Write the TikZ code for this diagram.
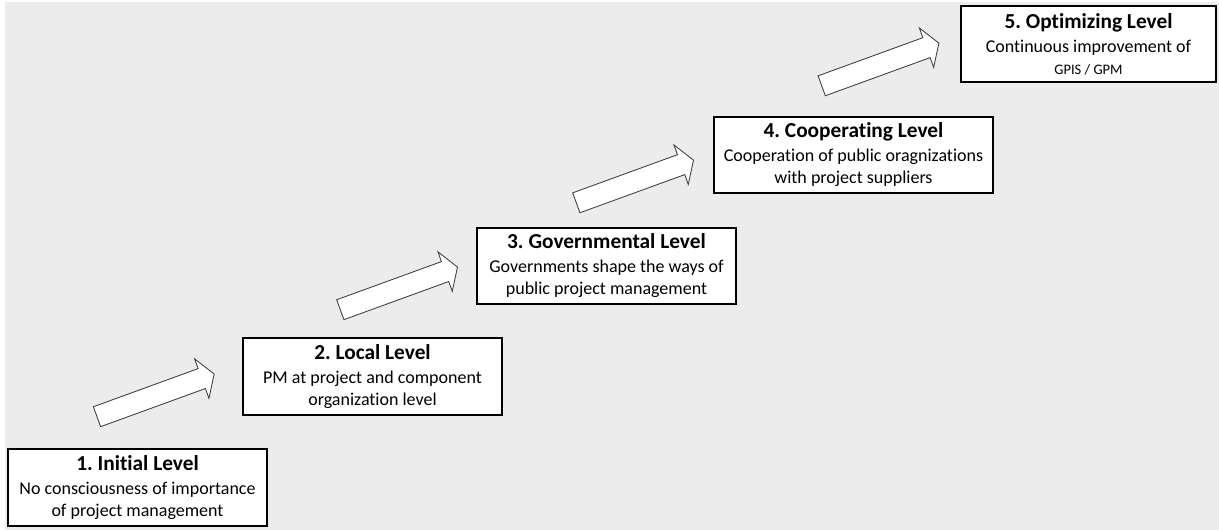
\documentclass[tikz,border=0pt]{standalone}
\usepackage{fontspec}
\setmainfont{Carlito}[Ligatures=NoCommon]
\frenchspacing
\definecolor{bgcol}{RGB}{236,236,236}
\begin{document}
\begin{tikzpicture}[x=0.75pt,y=-0.75pt,
  level/.style={draw=black, line width=1.6pt, fill=white, inner sep=0pt, align=center,
    minimum width=194pt, minimum height=57.6pt, font=\fontsize{13.5}{16.5}\selectfont},
  arrowshape/.style={draw=black!75, line width=0.65pt, fill=white, line join=miter},
  blockarrow/.pic={\path[arrowshape] (0,-10.6) -- (111.5,-10.6) -- (111.5,-21) -- (124.7,0)
     -- (111.5,21) -- (111.5,10.6) -- (0,10.6) -- cycle;}]
\useasboundingbox (0,0) rectangle (1219,530);
\fill[bgcol] (5,2) rectangle (1219,530);
% arrows
\pic[rotate=20] at (97,416.7) {blockarrow};
\pic[rotate=20] at (340.3,309.7) {blockarrow};
\pic[rotate=20] at (576.3,202.8) {blockarrow};
\pic[rotate=20] at (821.7,85.8) {blockarrow};
% level boxes
\node[level] (l1) at (137.5,487.5) {{\bfseries\fontsize{16}{18}\selectfont 1. Initial Level}\\[1.5pt]
  No consciousness of importance\\ of project management};
\node[level] (l2) at (372.5,376.5) {{\bfseries\fontsize{16}{18}\selectfont 2. Local Level}\\[1.5pt]
  PM at project and component\\ organization level};
\node[level] (l3) at (606.5,266) {{\bfseries\fontsize{16}{18}\selectfont 3. Governmental Level}\\[1.5pt]
  Governments shape the ways of\\ public project management};
\node[level, minimum width=209pt] (l4) at (853.5,155) {{\bfseries\fontsize{16}{18}\selectfont 4. Cooperating Level}\\[1.5pt]
  Cooperation of public oragnizations\\ with project suppliers};
\node[level, minimum width=191pt] (l5) at (1088.5,44) {{\bfseries\fontsize{16}{18}\selectfont 5. Optimizing Level}\\[1.5pt]
  Continuous improvement of\\ {\fontsize{10.9}{13}\selectfont GPIS / GPM}};
\end{tikzpicture}
\end{document}
